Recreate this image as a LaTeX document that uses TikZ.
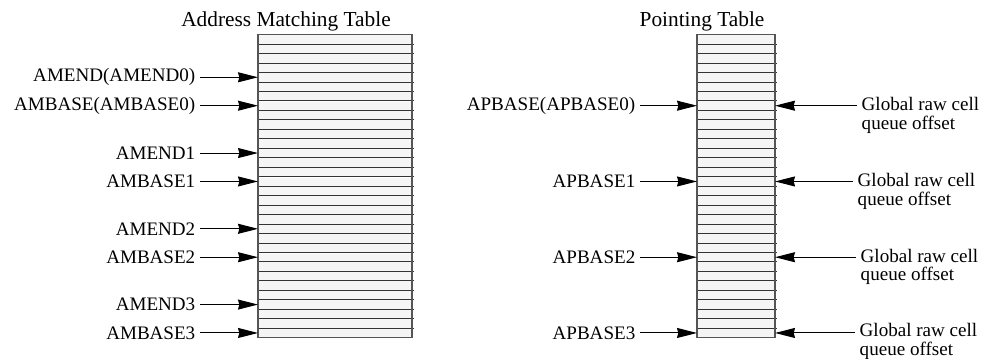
\documentclass[tikz,border=0pt]{standalone}
\usepackage{fontspec}
\setmainfont{Liberation Serif}
\usetikzlibrary{arrows.meta}

\definecolor{rowgray}{RGB}{245,245,245}
\definecolor{edgegray}{RGB}{85,85,85}

% top of table row #1, and its middle
\newcommand{\rtop}[1]{34.7+9.47*#1}
\newcommand{\rmid}[1]{34.7+9.47*#1+4.7}

\begin{document}
\begin{tikzpicture}[x=0.75pt, y=-0.75pt,
    font=\fontsize{14.3}{14}\selectfont,
    arr/.style={-{Stealth[length=15pt, width=7.5pt, inset=1pt]}, line width=0.75pt, black},
    rowline/.style={line width=0.75pt, black!80},
    frame/.style={line width=1pt, edgegray},
    title/.style={anchor=base, font=\fontsize{16}{16}\selectfont}]

  \useasboundingbox (0,0) rectangle (984,358);

  % titles
  \node[title] (amtitle) at (286,26) {Address Matching Table};
  \node[title] (ptitle) at (702,26) {Pointing Table};

  % address matching table, base rows left white
  \fill[rowgray] (258,{\rtop{0}}) rectangle (412,{\rtop{32}});
  \foreach \k in {7,15,23,31}
    \fill[white] (258,{\rtop{\k}}) rectangle (412,{\rtop{\k+1}});
  \foreach \k in {1,...,31}
    \draw[rowline] (258,{\rtop{\k}}) -- (414,{\rtop{\k}});
  \draw[frame] (258,{\rtop{0}}) rectangle (412,{\rtop{32}});

  % pointing table
  \fill[rowgray] (697,{\rtop{0}}) rectangle (775,{\rtop{32}});
  \foreach \k in {1,...,31}
    \draw[rowline] (697,{\rtop{\k}}) -- (777,{\rtop{\k}});
  \draw[frame] (697,{\rtop{0}}) rectangle (775,{\rtop{32}});

  % arrow targets on the table edges
  \foreach \k in {4,7,12,15,20,23,28,31}
    \coordinate (am\k) at (258,{\rmid{\k}});
  \foreach \k in {7,15,23,31} {
    \coordinate (pl\k) at (697,{\rmid{\k}});
    \coordinate (pr\k) at (775,{\rmid{\k}});
  }

  % address matching labels
  \node[anchor=east] (amend0) at (200,{\rmid{4}}) {AMEND(AMEND0)};
  \node[anchor=east] (ambase0) at (200,{\rmid{7}}) {AMBASE(AMBASE0)};
  \node[anchor=east] (amend1) at (200,{\rmid{12}}) {AMEND1};
  \node[anchor=east] (ambase1) at (200,{\rmid{15}}) {AMBASE1};
  \node[anchor=east] (amend2) at (200,{\rmid{20}}) {AMEND2};
  \node[anchor=east] (ambase2) at (200,{\rmid{23}}) {AMBASE2};
  \node[anchor=east] (amend3) at (200,{\rmid{28}}) {AMEND3};
  \node[anchor=east] (ambase3) at (200,{\rmid{31}}) {AMBASE3};

  \draw[arr] (amend0) -- (am4);
  \draw[arr] (ambase0) -- (am7);
  \draw[arr] (amend1) -- (am12);
  \draw[arr] (ambase1) -- (am15);
  \draw[arr] (amend2) -- (am20);
  \draw[arr] (ambase2) -- (am23);
  \draw[arr] (amend3) -- (am28);
  \draw[arr] (ambase3) -- (am31);

  % pointing labels
  \node[anchor=east] (apbase0) at (640,{\rmid{7}}) {APBASE(APBASE0)};
  \node[anchor=east] (apbase1) at (640,{\rmid{15}}) {APBASE1};
  \node[anchor=east] (apbase2) at (640,{\rmid{23}}) {APBASE2};
  \node[anchor=east] (apbase3) at (640,{\rmid{31}}) {APBASE3};

  \draw[arr] (apbase0) -- (pl7);
  \draw[arr] (apbase1) -- (pl15);
  \draw[arr] (apbase2) -- (pl23);
  \draw[arr] (apbase3) -- (pl31);

  % queue offsets on the right
  \node[anchor=north west, align=left] (glob0) at (857,{\rmid{7}-13}) {Global raw cell\\queue offset};
  \node[anchor=north west, align=left] (glob1) at (853,{\rmid{15}-13}) {Global raw cell\\queue offset};
  \node[anchor=north west, align=left] (glob2) at (856,{\rmid{23}-13}) {Global raw cell\\queue offset};
  \node[anchor=north west, align=left] (glob3) at (855,{\rmid{31}-14}) {Global raw cell\\queue offset};

  \draw[arr] (glob0.west |- pr7) -- (pr7);
  \draw[arr] (glob1.west |- pr15) -- (pr15);
  \draw[arr] (glob2.west |- pr23) -- (pr23);
  \draw[arr] (glob3.west |- pr31) -- (pr31);

\end{tikzpicture}
\end{document}
